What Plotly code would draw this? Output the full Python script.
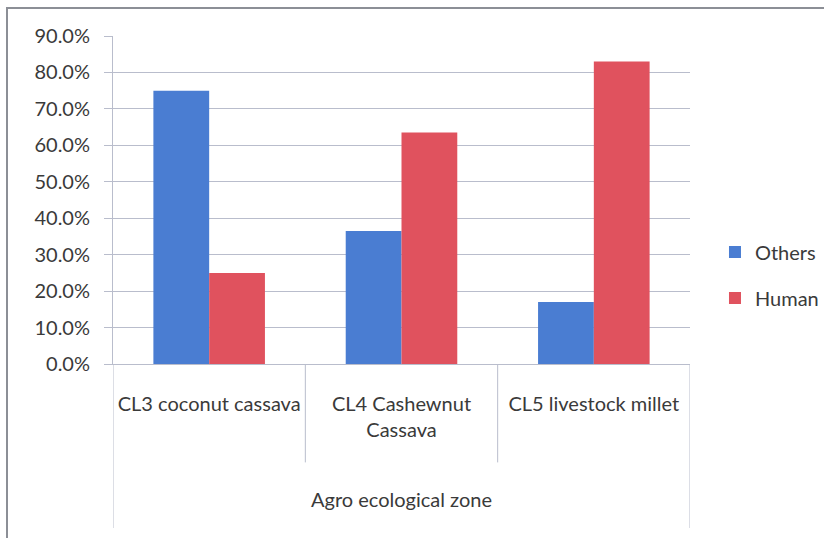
import plotly.graph_objects as go

categories = ["CL3 coconut cassava", "CL4 Cashewnut<br>Cassava", "CL5 livestock millet"]
others = [75.0, 36.5, 17.0]
human = [25.0, 63.5, 83.0]
y_ticks = [0, 10, 20, 30, 40, 50, 60, 70, 80, 90]
x_title = "Agro ecological zone"

BLUE = "#4a7dd2"
RED = "#e0525e"
GRID = "#b9bdcc"
TXT = "#3a3a3a"
FONT = "Lato, Open Sans, sans-serif"

fig = go.Figure()
fig.add_trace(go.Bar(name="Others", x=categories, y=others, marker_color=BLUE,
                     marker_line_width=0, legendgroup="a"))
fig.add_trace(go.Bar(name="Human", x=categories, y=human, marker_color=RED,
                     marker_line_width=0, legendgroup="b"))

shapes = []
# category divider lines (multi-level axis look)
for xv, depth in [(-0.5, -0.5), (0.5, -0.3), (1.5, -0.3), (2.5, -0.5)]:
    shapes.append(dict(type="line", xref="x", yref="paper", x0=xv, x1=xv, y0=0, y1=depth,
                       line=dict(color=GRID, width=1)))
# chart border
shapes.append(dict(type="rect", xref="paper", yref="paper", x0=-0.1837, x1=1.6, y0=-1.2, y1=1.0854,
                   line=dict(color="#8c8f96", width=2), fillcolor="rgba(0,0,0,0)"))

fig.update_layout(
    width=824, height=538,
    margin=dict(l=113, r=134, t=36, b=174),
    paper_bgcolor="white", plot_bgcolor="white",
    barmode="group", bargap=0.42, bargroupgap=0,
    font=dict(family=FONT, size=20, color=TXT),
    showlegend=True,
    legend=dict(xref="container", yref="container", x=0.8677, y=0.4888,
                xanchor="left", yanchor="middle",
                traceorder="grouped", tracegroupgap=17,
                font=dict(family=FONT, size=20, color=TXT), bgcolor="rgba(0,0,0,0)"),
    shapes=shapes,
    xaxis=dict(type="category", range=[-0.5, 2.5], showgrid=False, ticks="",
               showline=True, linecolor=GRID, linewidth=1,
               ticklabelstandoff=22,
               tickfont=dict(family=FONT, size=20, color=TXT),
               title=dict(text=x_title, standoff=52, font=dict(family=FONT, size=20, color=TXT))),
    yaxis=dict(range=[0, 90], tickvals=y_ticks, ticktext=[f"{v:.1f}%" for v in y_ticks],
               showgrid=True, gridcolor=GRID, gridwidth=1, zeroline=False,
               ticks="outside", ticklen=8, tickcolor=GRID,
               showline=True, linecolor=GRID, linewidth=1,
               ticklabelstandoff=10,
               tickfont=dict(family=FONT, size=20, color=TXT)),
)

fig.write_html("out.html", config={"displayModeBar": False},
               post_script="document.body.style.margin='0';document.body.style.overflow='hidden';")
